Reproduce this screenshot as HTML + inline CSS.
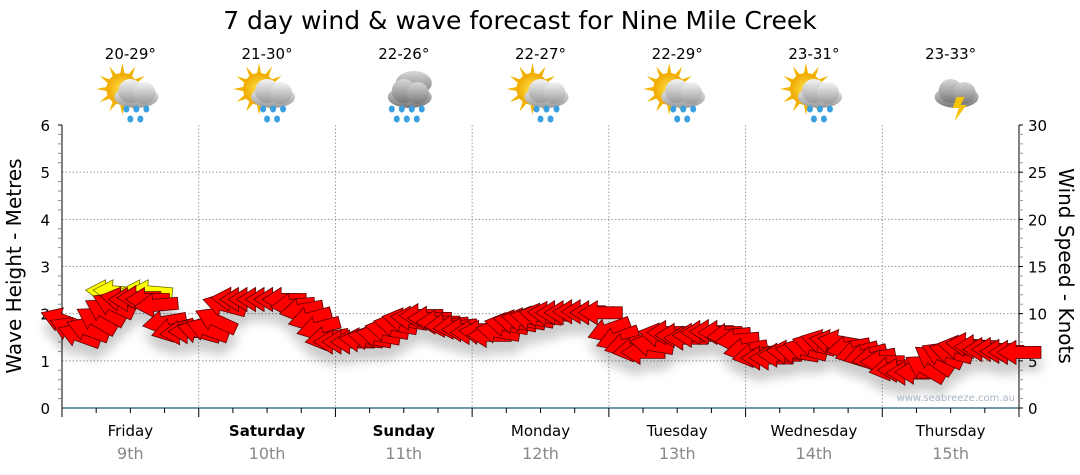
<!DOCTYPE html>
<html><head><meta charset="utf-8"><style>
html,body{margin:0;padding:0;background:#fff;}
svg{display:block;font-family:"DejaVu Sans","Liberation Sans",sans-serif;}
</style></head><body>
<svg id="chart" width="1080" height="475" viewBox="0 0 1080 475" xmlns="http://www.w3.org/2000/svg">
<defs>
<filter id="sh" x="-50%" y="-50%" width="200%" height="250%"><feDropShadow dx="0" dy="12" stdDeviation="5" flood-color="#000" flood-opacity="0.2"/></filter>
<radialGradient id="sun" cx="50%" cy="50%" r="50%"><stop offset="0" stop-color="#ffe34a"/><stop offset="1" stop-color="#f0a800"/></radialGradient>
<linearGradient id="cloud" x1="0" y1="0" x2="0" y2="1"><stop offset="0" stop-color="#f4f4f4"/><stop offset="1" stop-color="#9a9a9a"/></linearGradient>
<linearGradient id="dcloud" x1="0" y1="0" x2="0" y2="1"><stop offset="0" stop-color="#d8d8d8"/><stop offset="1" stop-color="#777"/></linearGradient>
</defs>
<text x="520" y="29" font-size="25" text-anchor="middle" fill="#000">7 day wind &amp; wave forecast for Nine Mile Creek</text>
<g id="grid"></g>
<g id="axes"></g>
<g id="icons"></g>
<g id="arrows" filter="url(#sh)"></g>
<text transform="translate(21,266) rotate(-90)" font-size="20" text-anchor="middle">Wave Height - Metres</text>
<text transform="translate(1059,266) rotate(90)" font-size="20" text-anchor="middle">Wind Speed - Knots</text>
<text x="1015" y="401" font-size="10" text-anchor="end" fill="#a8b4c4">www.seabreeze.com.au</text>
</svg>
<script>
const days=["Friday","Saturday","Sunday","Monday","Tuesday","Wednesday","Thursday"];
const dates=["9th","10th","11th","12th","13th","14th","15th"];
const boldDays=[false,true,true,false,false,false,false];
const temps=["20-29°","21-30°","22-26°","22-27°","22-29°","23-31°","23-33°"];
const icons=["sunshower","sunshower","rain","sunshower","sunshower","sunshower","storm"];
const leftTicks=[0,1,2,3,4,5,6];
const rightTicks=[0,5,10,15,20,25,30];
// wind speed (knots), every 1.5 hours from Friday 00:00
const windSpeed=[9.3,8.3,7.7,8.3,9.3,10.2,10.9,11.5,11.5,11.7,11.5,10.9,9.1,8.3,8.0,8.1,
8.1,8.3,9.3,10.9,11.5,11.5,11.5,11.5,11.5,11.5,11.5,10.9,10.4,9.5,8.5,7.4,
7.0,7.0,7.0,7.2,7.4,7.7,8.3,8.8,9.3,9.5,9.8,9.5,9.1,8.8,8.6,8.3,
8.0,8.0,7.7,8.1,8.8,9.1,9.3,9.5,9.8,10.0,10.1,10.1,10.2,10.2,10.1,10.1,
8.3,7.4,6.7,6.2,5.9,6.7,7.7,8.0,7.7,7.4,7.7,8.0,8.1,8.0,7.7,7.2,
6.2,5.6,5.3,5.3,5.6,5.9,5.9,6.2,6.7,7.0,7.0,7.0,6.4,5.9,5.6,5.3,
4.9,4.2,4.0,3.7,3.8,4.2,5.1,5.6,5.9,6.4,6.7,6.5,6.2,6.2,6.0,5.9,5.9];
// arrow tilt in degrees (positive = tip raised)
const windTilt=[20,25,20,20,30,30,25,10,0,0,0,-5,-10,-15,-5,0,
15,20,25,15,5,0,0,0,0,0,0,-5,-10,-15,-15,-10,
0,0,0,5,10,10,10,10,10,5,0,0,0,-5,-5,0,
0,5,0,10,10,10,10,10,10,5,0,0,0,0,0,0,
-20,-20,-15,-10,0,10,10,0,0,0,0,0,0,0,-5,-5,
-10,-10,0,0,0,5,10,15,15,15,10,10,-10,-15,-15,-10,
0,-10,0,0,0,30,35,25,15,10,5,0,0,0,0,0,0];
const yellowHours=[8,9.3,14,15.5];
const yellowSpeed=[12.3,12.3,12.3,12.3];

const NS="http://www.w3.org/2000/svg";
const X0=62,X1=1019,Y0=408,Y1=125;
const dayW=(X1-X0)/7;
const xHour=h=>X0+h/24*dayW;
const yM=m=>Y0-m/6*(Y0-Y1);
const yK=k=>Y0-k/30*(Y0-Y1);
function mk(tag,attrs,parent,txt){const e=document.createElementNS(NS,tag);for(const k in attrs)e.setAttribute(k,attrs[k]);if(txt!==undefined)e.textContent=txt;parent.appendChild(e);return e;}
const grid=document.getElementById('grid'),axes=document.getElementById('axes'),icg=document.getElementById('icons'),arr=document.getElementById('arrows');

for(let m=1;m<=5;m++){const l=mk('line',{x1:X0,x2:X1,y1:yM(m),y2:yM(m),stroke:'#999','stroke-dasharray':'1.5,2','stroke-width':1},grid);

}
for(let d=1;d<7;d++){const x=X0+d*dayW;const l=mk('line',{x1:x,x2:x,y1:Y1,y2:Y0,stroke:'#999','stroke-dasharray':'1.5,2','stroke-width':1},grid);

}
mk('line',{x1:X0,x2:X0,y1:Y1,y2:Y0,stroke:'#000'},axes);
mk('line',{x1:X0-4,x2:X0,y1:Y1,y2:Y1,stroke:'#000'},axes);
for(let i=1;i<30;i++){if(i%5===0)continue;mk('line',{x1:X0-4,x2:X0,y1:yM(i/5),y2:yM(i/5),stroke:'#888'},axes);}
leftTicks.forEach(v=>{const t=mk('text',{x:X0-12,y:yM(v)+6,'font-size':15,'text-anchor':'end'},axes,v);

});
mk('line',{x1:X1,x2:X1,y1:Y1,y2:Y0,stroke:'#000'},axes);
for(let k=0;k<=30;k++){mk('line',{x1:X1,x2:X1+4,y1:yK(k),y2:yK(k),stroke:k%5===0?'#000':'#999'},axes);}
rightTicks.forEach(v=>{const t=mk('text',{x:X1+9,y:yK(v)+6,'font-size':15,'text-anchor':'start'},axes,v);

});
mk('line',{x1:X0,x2:X1,y1:Y0,y2:Y0,stroke:'#1e5a80','stroke-width':1.3},axes);
for(let q=0;q<=28;q++){const x=X0+q*dayW/4;mk('line',{x1:x,x2:x,y1:Y0,y2:Y0+(q%4===0?9:5),stroke:'#000'},axes);}
days.forEach((d,i)=>{const cx=X0+(i+0.5)*dayW;
const t=mk('text',{x:cx,y:436,'font-size':15,'text-anchor':'middle','font-weight':boldDays[i]?'bold':'normal'},axes,d);


const t2=mk('text',{x:cx,y:459,'font-size':16,'text-anchor':'middle',fill:'#888'},axes,dates[i]);


const t3=mk('text',{x:cx,y:59,'font-size':15,'text-anchor':'middle'},icg,temps[i]);


const g=mk('g',{transform:`translate(${cx+2},97)`},icg);


drawIcon(g,icons[i]);});

function drawIcon(g,type){
 if(type==='sunshower'){
  for(let a=0;a<12;a++){const ang=a*30*Math.PI/180;const cx=-10,cy=-8;
   mk('polygon',{points:`${cx+Math.cos(ang)*26},${cy+Math.sin(ang)*26} ${cx+Math.cos(ang+0.18)*14},${cy+Math.sin(ang+0.18)*14} ${cx+Math.cos(ang-0.18)*14},${cy+Math.sin(ang-0.18)*14}`,fill:'#f2b400'},g);}
  mk('circle',{cx:-10,cy:-8,r:16,fill:'url(#sun)'},g);
 }
 const grad=type==='sunshower'?'url(#cloud)':'url(#dcloud)';
 if(type==='rain'){mk('ellipse',{cx:8,cy:-14,rx:18,ry:12,fill:'url(#dcloud)'},g);}
 mk('ellipse',{cx:4,cy:0,rx:22,ry:11,fill:grad},g);
 mk('circle',{cx:-2,cy:-6,r:12,fill:grad},g);
 mk('circle',{cx:12,cy:-4,r:11,fill:grad},g);
 if(type==='storm'){mk('polygon',{points:'4,0 12,0 8,8 14,8 2,24 6,11 0,11',fill:'#f5c400'},g);return;}
 const drops=type==='rain'?[[-14,12],[-4,12],[6,12],[16,12],[-9,22],[1,22],[11,22]]:[[-6,12],[4,12],[14,12],[-2,22],[8,22]];
 drops.forEach(p=>mk('ellipse',{cx:p[0],cy:p[1],rx:3,ry:3.5,fill:'#3aa0e0'},g));
}

const ARROW="M-22,0 L-3,-12 L-3,-6 L22,-6 L22,6 L-3,6 L-3,12 Z";
yellowHours.forEach((h,i)=>{const p=mk('path',{d:ARROW,fill:'#ffff00',stroke:'#6a6a00','stroke-width':0.8,transform:`translate(${xHour(h)},${yK(yellowSpeed[i])}) rotate(5)`},arr);

});
windSpeed.forEach((s,i)=>{const p=mk('path',{d:ARROW,fill:'#ff0000',stroke:'#5a0000','stroke-width':0.8,transform:`translate(${xHour(i*1.5)},${yK(s)}) rotate(${windTilt[i]})`},arr);

});
</script>
</body></html>
